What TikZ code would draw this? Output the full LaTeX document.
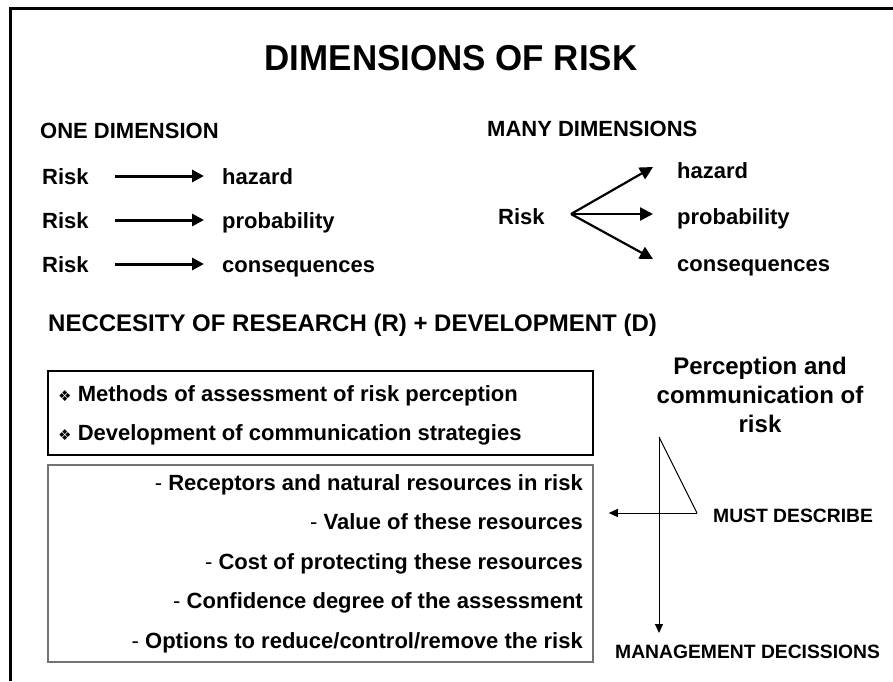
\documentclass[tikz,border=0pt]{standalone}
\usepackage{fontspec}
\setmainfont{Liberation Sans}
\newfontfamily\dejavu{DejaVu Sans}
\usetikzlibrary{arrows.meta}
\begin{document}
\begin{tikzpicture}[x=1pt,y=-1pt,
  txt/.style={font=\fontsize{22}{24}\selectfont\bfseries, inner sep=0pt, text height=16pt, text depth=0pt},
  head/.style={font=\fontsize{22}{24}\selectfont\bfseries, inner sep=0pt, text height=16pt, text depth=0pt},
  bigtxt/.style={font=\fontsize{24}{29}\selectfont\bfseries, inner sep=0pt, align=center},
  small/.style={font=\fontsize{19.3}{21}\selectfont\bfseries, inner sep=0pt, text height=14pt, text depth=0pt},
  boxa/.style={draw=black, line width=1.3pt, inner sep=0pt},
  boxb/.style={draw=black!55, line width=1.5pt, inner sep=0pt},
  thick arrow/.style={line width=3pt, -{Triangle[length=12pt,width=12pt]}},
  fan arrow/.style={line width=2.2pt, -{Triangle[length=13pt,width=13pt]}},
  thin arrow/.style={line width=1pt, -{Triangle[length=9pt,width=8pt]}},
  thin line/.style={line width=1pt}]
\useasboundingbox (0,0) rectangle (893,681);
% frame
\draw[line width=3pt] (10.5,681) -- (10.5,8.5) -- (893,8.5);
% title
\node[font=\fontsize{36}{38}\selectfont\bfseries, inner sep=0pt, xscale=0.97, transform shape] (title) at (451,58) {DIMENSIONS OF RISK};
% one dimension
\node[head, anchor=west] (one) at (40,130) {ONE DIMENSION};
\node[head, anchor=west] (many) at (487,128) {MANY DIMENSIONS};
\node[txt, anchor=west] (r1) at (42,176) {Risk};
\node[txt, anchor=west] (r2) at (42,220) {Risk};
\node[txt, anchor=west] (r3) at (42,264) {Risk};
\node[txt, anchor=west] (h1) at (222,176) {hazard};
\node[txt, anchor=west] (h2) at (222,220) {probability};
\node[txt, anchor=west] (h3) at (222,264) {consequences};
\draw[thick arrow, shorten <=26pt, shorten >=18pt] (r1.east) -- (h1.west);
\draw[thick arrow, shorten <=26pt, shorten >=18pt] (r2.east) -- (h2.west);
\draw[thick arrow, shorten <=26pt, shorten >=18pt] (r3.east) -- (h3.west);
% many dimensions
\node[txt, anchor=west] (rr) at (498,216) {Risk};
\node[txt, anchor=west] (m1) at (677,170) {hazard};
\node[txt, anchor=west] (m2) at (677,216) {probability};
\node[txt, anchor=west] (m3) at (677,263) {consequences};
\coordinate (fs) at (571,214);
\coordinate (f1) at (653,167);
\coordinate (f2) at (653,214);
\coordinate (f3) at (653,259);
\draw[fan arrow] (fs) -- (f1);
\draw[fan arrow] (fs) -- (f2);
\draw[fan arrow] (fs) -- (f3);
% heading
\node[font=\fontsize{24}{26}\selectfont\bfseries, inner sep=0pt, anchor=west, text height=17pt, text depth=0pt] (nec) at (48,323) {NECCESITY OF RESEARCH (R) + DEVELOPMENT (D)};
% box 1
\node[boxa, minimum width=545pt, minimum height=84pt] (b1) at (320.5,413) {};
\node[txt, anchor=west] (l1) at (58,393) {{\dejavu\fontsize{15}{17}\selectfont ❖} Methods of assessment of risk perception};
\node[txt, anchor=west] (l2) at (58,432) {{\dejavu\fontsize{15}{17}\selectfont ❖} Development of communication strategies};
% box 2
\node[boxb, minimum width=545pt, minimum height=197pt] (b2) at (320.5,563.5) {};
\node[txt, anchor=east] (p1) at (583,482) {{\mdseries -} Receptors and natural resources in risk};
\node[txt, anchor=east] (p2) at (583,521) {{\mdseries -} Value of these resources};
\node[txt, anchor=east] (p3) at (583,561) {{\mdseries -} Cost of protecting these resources};
\node[txt, anchor=east] (p4) at (583,600) {{\mdseries -} Confidence degree of the assessment};
\node[txt, anchor=east] (p5) at (583,640) {{\mdseries -} Options to reduce/control/remove the risk};
% perception
\node[bigtxt] (perc) at (760,395) {Perception and\\communication of\\risk};
\coordinate (apex) at (659,437);
\coordinate (corner) at (697,513);
\node[small, anchor=west] (must) at (713,515) {MUST DESCRIBE};
\node[small, anchor=west] (mgmt) at (615,651) {MANAGEMENT DECISSIONS};
\draw[thin line] (apex) -- (corner);
\draw[thin arrow, shorten >=15pt] (corner) -- (corner -| b2.east);
\draw[thin arrow] (apex) -- (apex |- 0,633);
\end{tikzpicture}
\end{document}
